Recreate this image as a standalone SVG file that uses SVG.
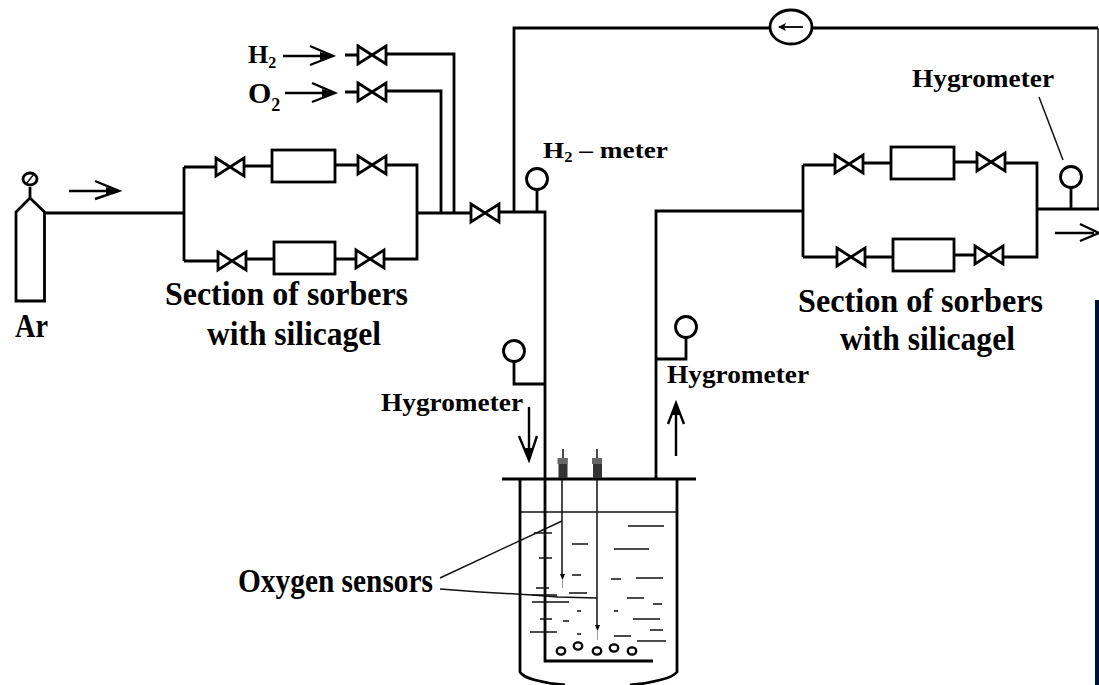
<svg xmlns="http://www.w3.org/2000/svg" width="1099" height="685" viewBox="0 0 1099 685">
<style>
.p{fill:none;stroke:#000;stroke-width:2.8}
.t{fill:none;stroke:#111;stroke-width:1.5}
.a{fill:none;stroke:#000;stroke-width:2.4}
.f{fill:#000;stroke:none}
.g{fill:#fff;stroke:#000;stroke-width:2.8}
text{font-family:"Liberation Serif","Times New Roman",serif;font-weight:bold;fill:#000}
.l{font-size:33px}
.m{font-size:26px}
</style>
<defs>
<path id="v" d="M-14,-9 L14,9 V-9 L-14,9 Z" fill="#fff" stroke="#000" stroke-width="2.8"/>
<g id="b"><path d="M-4,0 H5 V20 H-4 Z" fill="#333"/><rect x="-5" y="0" width="10" height="6" fill="#666"/></g>
<ellipse id="bub" rx="4.2" ry="3.6" fill="#fff" stroke="#000" stroke-width="2.4"/>
</defs>
<rect width="1099" height="685" fill="#fff"/>
<rect id="edge-bar" x="1095" y="300" width="4" height="385" fill="#001038"/>
<g id="connectors">
<path class="p" d="M45,213 H184 M184,167 V261 M184,167 H215 M245,166 H272 M335,165 H358 M386,165 H417 V259 H385 M356,259 H335 M274,259 H246 M218,261 H184"/>
<path class="p" d="M417,213 H471 M499,212 H545 V479 M454,213 V54 H386 M441,213 V91 H386 M345,55 H359 M345,92 H359"/>
<path class="p" d="M514,212 V28 H770 M812,28 H1098"/>
<path class="t" d="M1098,28 V209"/>
<path class="p" d="M656,478 V211 H803 M803,165 V257 M803,165 H835 M863,163 H891 M954,162 H977 M1006,163 H1037 V257 H1003 M975,255 H954 M893,257 H865 M837,257 H803 M1037,209 H1099"/>
<path class="p" d="M537,190 V212 M514,362 V384 H544 M686,338 V359 H656 M1071,188 V209"/>
<path class="a" d="M69,191 H112 M95,181 L119,191 L95,199"/>
<path class="a" d="M283,56 H326 M310,46 L333,56 L310,65"/>
<path class="a" d="M285,93 H328 M312,83 L335,93 L312,102"/>
<path class="a" d="M1055,233 H1094 M1080,224 L1099,233 L1080,241"/>
<path class="a" d="M529,407 V452 M519,436 L529,460 L537,436"/>
<path class="a" d="M676,456 V410 M668,424 L676,403 L684,424"/>
<path class="f" d="M106,187 L119,191 L106,195 Z M320,52 L333,56 L320,60 Z M322,89 L335,93 L322,97 Z M525,448 L529,460 L533,448 Z M672,415 L676,403 L680,415 Z"/>
<path class="t" d="M1039,97 L1063,160"/>
<path class="t" d="M440,578 L562,521 M440,589 L480,592 L532,595 L558,597 L597,598"/>
</g>
<g id="cylinder-ar">
<path class="p" d="M16,301 V212 L30,198 L44.5,212 V301 Z M30,198 V187"/>
<ellipse class="g" cx="30" cy="179" rx="7" ry="6"/>
<path class="t" d="M26,184 L34,174"/>
<text class="l" x="15" y="337" textLength="33" lengthAdjust="spacingAndGlyphs">Ar</text>
</g>
<g id="h2-supply">
<text x="248" y="63" style="font-size:26px">H<tspan style="font-size:16px" dy="5">2</tspan></text>
<use href="#v" x="372" y="55"/>
</g>
<g id="o2-supply">
<text x="248" y="103" style="font-size:30px">O<tspan style="font-size:18px" dy="8">2</tspan></text>
<use href="#v" x="372" y="92"/>
</g>
<g id="sorbers-left">
<use href="#v" x="230" y="167"/><rect class="p" x="272" y="150" width="63" height="32"/><use href="#v" x="372" y="165"/>
<use href="#v" x="232" y="261"/><rect class="p" x="274" y="242" width="61" height="32"/><use href="#v" x="370" y="259"/>
<text class="l" x="165" y="305" textLength="243" lengthAdjust="spacingAndGlyphs">Section of sorbers</text>
<text class="l" x="207" y="345" textLength="174" lengthAdjust="spacingAndGlyphs">with silicagel</text>
</g>
<g id="inlet-valve"><use href="#v" x="485" y="213"/></g>
<g id="h2-meter">
<circle class="g" cx="537" cy="179" r="10.5"/>
<text x="543" y="158" textLength="125" lengthAdjust="spacingAndGlyphs" style="font-size:23px">H<tspan style="font-size:14px" dy="4">2</tspan><tspan dy="-4"> – meter</tspan></text>
</g>
<g id="pump">
<ellipse class="g" cx="791" cy="27" rx="21" ry="17"/>
<path class="a" style="stroke-width:1.8" d="M803,27 H779"/>
<path class="f" d="M778,27 L786,23 L784,27 L786,31 Z"/>
</g>
<g id="sorbers-right">
<use href="#v" x="849" y="164"/><rect class="p" x="891" y="147" width="63" height="32"/><use href="#v" x="991" y="162"/>
<use href="#v" x="851" y="257"/><rect class="p" x="893" y="239" width="61" height="32"/><use href="#v" x="989" y="255"/>
<text class="l" x="798" y="312" textLength="245" lengthAdjust="spacingAndGlyphs">Section of sorbers</text>
<text class="l" x="840" y="350" textLength="175" lengthAdjust="spacingAndGlyphs">with silicagel</text>
</g>
<g id="hygrometer-outlet">
<circle class="g" cx="1071" cy="177" r="10.5"/>
<text class="m" x="912" y="87" textLength="142" lengthAdjust="spacingAndGlyphs">Hygrometer</text>
</g>
<g id="hygrometer-in">
<circle class="g" cx="514" cy="351" r="10.5"/>
<text class="m" x="381" y="411" textLength="142" lengthAdjust="spacingAndGlyphs">Hygrometer</text>
</g>
<g id="hygrometer-return">
<circle class="g" cx="686" cy="327" r="10.5"/>
<text class="m" x="667" y="383" textLength="142" lengthAdjust="spacingAndGlyphs">Hygrometer</text>
</g>
<g id="vessel">
<path class="p" d="M502,479 H696 M520,479 V672 Q523,677 535,680 Q550,684 565,685 M630,685 Q645,684 660,680 Q673,677 677,672 V479"/>
<path class="t" d="M520,512 H677"/>
<path class="p" d="M545,479 V661 H653"/>
<path class="t" d="M563,449 V459 M597,449 V459 M562,478 V577 M597,478 V628"/>
<use href="#b" x="562.5" y="458"/><use href="#b" x="597" y="458"/>
<path class="f" d="M560,574 H565 L563,579 H562 Z M595,625 H600 L598,630 H597 Z"/>
<path stroke="#999" stroke-width="1" d="M562.5,579 V588 M597.5,630 V640"/>
<path class="t" d="M628,526 H664 M572,544 H588 M614,549 H649 M534,533 H552 M539,558 H552 M572,575 H581 M611,579 H621 M636,578 H663 M536,588 H549 M532,595 H557 M569,593 H587 M627,598 H644 M532,602 H569 M653,604 H662 M577,611 H581 M614,611 H618 M540,619 H552 M563,621 H569 M633,619 H660 M650,630 H663 M530,632 H557 M577,634 H581 M614,636 H631 M637,641 H666"/>
<use href="#bub" x="561" y="651"/><use href="#bub" x="578" y="646"/><use href="#bub" x="597" y="651"/><use href="#bub" x="614" y="648"/><use href="#bub" x="632" y="651"/>
</g>
<g id="sensor-label">
<text x="238" y="592" textLength="195" lengthAdjust="spacingAndGlyphs" style="font-size:33px">Oxygen sensors</text>
</g>
</svg>
